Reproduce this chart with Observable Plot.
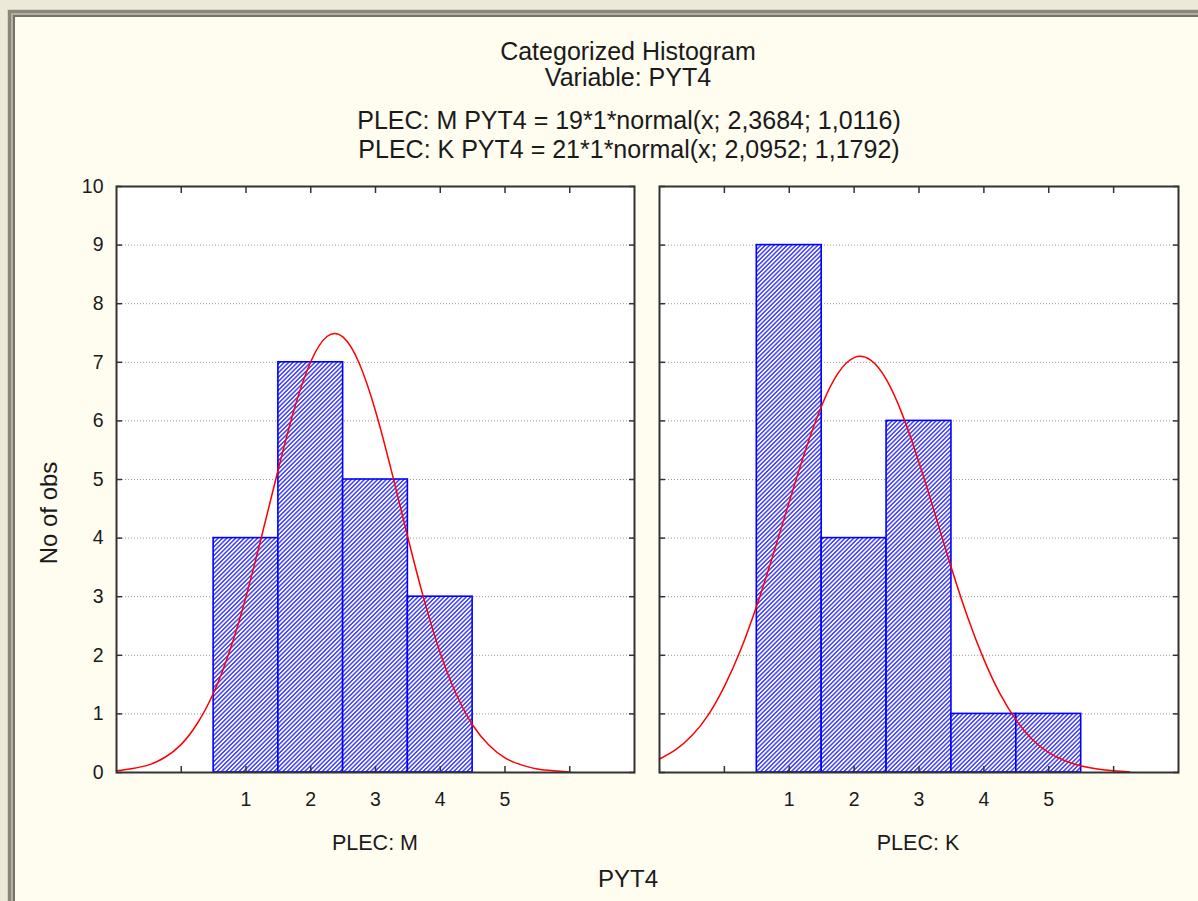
<!DOCTYPE html>
<html>
<head>
<meta charset="utf-8">
<script src="https://cdn.jsdelivr.net/npm/d3@7"></script>
<script src="https://cdn.jsdelivr.net/npm/@observablehq/plot@0.6"></script>
<style>
  html, body { margin: 0; padding: 0; background: #ece9d8; }
  #page { position: relative; width: 1198px; height: 901px; overflow: hidden;
          font-family: "Liberation Sans", Arial, sans-serif; color: #1a1a1a; }
  .f1 { position: absolute; left: 7px; top: 9px; width: 1300px; height: 1000px; background: #d6d3c6; }
  .f2 { position: absolute; left: 1px; top: 1px; right: 0; bottom: 0; background: #8a8779; }
  .f3 { position: absolute; left: 3px; top: 3px; right: 0; bottom: 0; background: #b3b0a2; }
  .f4 { position: absolute; left: 2px; top: 2px; right: 0; bottom: 0; background: #74726a; }
  .f5 { position: absolute; left: 2px; top: 2px; right: 0; bottom: 0; background: #fffcf0; }
  .txt { position: absolute; white-space: nowrap; line-height: 1; transform: translateX(-50%); }
  .plot { position: absolute; left: 0; top: 0; }
</style>
</head>
<body>
<div id="page">
  <div class="f1"><div class="f2"><div class="f3"><div class="f4"><div class="f5"></div></div></div></div></div>
  <svg width="0" height="0" style="position:absolute">
    <defs>
      <pattern id="hatch" patternUnits="userSpaceOnUse" width="3.1" height="3.1" patternTransform="rotate(45)">
        <rect width="3.1" height="3.1" fill="#ffffff"></rect>
        <line x1="1.55" y1="-1" x2="1.55" y2="4.1" stroke="#1010ff" stroke-width="1.2"></line>
      </pattern>
    </defs>
  </svg>
  <div id="charts"></div>
  <div id="texts"></div>
</div>
<script>
// ---- data ----
const categories = [1, 2, 3, 4, 5];
const countsM = [4, 7, 5, 3, 0];
const countsK = [9, 4, 6, 1, 1];

const curveXM = [-1, -0.75, -0.5, -0.25, 0, 0.25, 0.5, 0.75, 1, 1.25, 1.5, 1.75, 2, 2.25, 2.5, 2.75, 3, 3.25, 3.5, 3.75, 4, 4.25, 4.5, 4.75, 5, 5.25, 5.5, 5.75, 6];
const curveYM = [0.03, 0.07, 0.13, 0.26, 0.48, 0.84, 1.36, 2.08, 3.0, 4.07, 5.18, 6.22, 7.01, 7.44, 7.43, 6.98, 6.17, 5.13, 4.01, 2.95, 2.04, 1.33, 0.81, 0.47, 0.25, 0.13, 0.06, 0.03, 0.01];

const curveXK = [-1, -0.75, -0.5, -0.25, 0, 0.25, 0.5, 0.75, 1, 1.25, 1.5, 1.75, 2, 2.25, 2.5, 2.75, 3, 3.25, 3.5, 3.75, 4, 4.25, 4.5, 4.75, 5, 5.25, 5.5, 5.75, 6, 6.25];
const curveYK = [0.23, 0.39, 0.63, 0.98, 1.47, 2.09, 2.85, 3.71, 4.62, 5.5, 6.26, 6.81, 7.08, 7.04, 6.7, 6.09, 5.29, 4.4, 3.49, 2.65, 1.93, 1.34, 0.89, 0.56, 0.34, 0.2, 0.11, 0.06, 0.03, 0.01];

const yTicks = [0, 1, 2, 3, 4, 5, 6, 7, 8, 9, 10];
const yGrid = [1, 2, 3, 4, 5, 6, 7, 8, 9];
const xTicks = [0, 1, 2, 3, 4, 5, 6];
const xTickLabels = [1, 2, 3, 4, 5];

const titleLines = ["Categorized Histogram", "Variable: PYT4"];
const fitLines = ["PLEC: M PYT4 = 19*1*normal(x; 2,3684; 1,0116)", "PLEC: K PYT4 = 21*1*normal(x; 2,0952; 1,1792)"];
const panelLabels = ["PLEC: M", "PLEC: K"];
const xLabel = "PYT4";
const yLabel = "No of obs";

// ---- drawing ----
const W = 1198, H = 901;
const axisColor = "#333333";
const fmt = d => String(d);

function panel(counts, cx, cy, mLeft, mRight, showYLabels) {
  const bars = categories.map((c, i) => ({cat: c, count: counts[i]})).filter(d => d.count > 0);
  const marks = [
    Plot.frame({fill: "#ffffff", stroke: null}),
    Plot.gridY(yGrid, {stroke: "#9a9a9a", strokeOpacity: 1, strokeWidth: 1, strokeDasharray: "1,2"}),
    Plot.rectY(bars, {x1: d => d.cat - 0.5, x2: d => d.cat + 0.5, y: "count",
      fill: "url(#hatch)", stroke: "#0000ff", strokeWidth: 1.6}),
    Plot.line(cy, {x: cx, y: cy, stroke: "#ff0000", strokeWidth: 1.5, curve: "natural"}),
    Plot.frame({stroke: axisColor, strokeWidth: 2}),
    Plot.axisY(yTicks, {anchor: "left", tickSize: -6, text: null, label: null, stroke: axisColor, strokeWidth: 1.5}),
    Plot.axisY(yTicks, {anchor: "right", tickSize: -6, text: null, label: null, stroke: axisColor, strokeWidth: 1.5}),
    Plot.axisX(xTicks, {anchor: "bottom", tickSize: -6, text: null, label: null, stroke: axisColor, strokeWidth: 1.5}),
    Plot.axisX(xTicks, {anchor: "top", tickSize: -6, text: null, label: null, stroke: axisColor, strokeWidth: 1.5}),
    Plot.axisX(xTickLabels, {anchor: "bottom", tickSize: 0, tickPadding: 20, label: null, fontSize: 19.5, tickFormat: fmt})
  ];
  if (showYLabels) {
    marks.push(Plot.axisY(yTicks, {anchor: "left", tickSize: 0, tickPadding: 13, label: null, fontSize: 19.5, tickFormat: fmt}));
  }
  return Plot.plot({
    width: W, height: H,
    marginLeft: mLeft, marginRight: mRight, marginTop: 186, marginBottom: 129,
    x: {domain: [-1, 7]},
    y: {domain: [0, 10]},
    style: {background: "transparent", fontFamily: "'Liberation Sans', Arial, sans-serif", fontSize: "19.5px", color: "#1a1a1a", overflow: "visible"},
    marks
  });
}

const charts = document.getElementById("charts");
const p1 = panel(countsM, curveXM, curveYM, 116, W - 634, true);
const p2 = panel(countsK, curveXK, curveYK, 659, W - 1178, false);
p1.classList.add("plot"); p2.classList.add("plot");
p1.style.position = "absolute"; p2.style.position = "absolute";
charts.appendChild(p1); charts.appendChild(p2);

// ---- texts ----
const texts = document.getElementById("texts");
function addText(str, x, top, size, extra) {
  const d = document.createElement("div");
  d.className = "txt";
  d.textContent = str;
  d.style.left = x + "px";
  d.style.top = top + "px";
  d.style.fontSize = size + "px";
  if (extra) Object.assign(d.style, extra);
  texts.appendChild(d);
  return d;
}
const fsT = 25;
addText(titleLines[0], 628, 60 - 0.8465 * fsT, fsT);
addText(titleLines[1], 628, 86 - 0.8465 * fsT, fsT);
addText(fitLines[0], 629, 129 - 0.8465 * fsT, fsT);
addText(fitLines[1], 629, 158 - 0.8465 * fsT, fsT);
addText(panelLabels[0], 375, 851 - 0.8465 * 21.5, 21.5);
addText(panelLabels[1], 918, 851 - 0.8465 * 21.5, 21.5);
addText(xLabel, 628, 887 - 0.8465 * 24, 24);
addText(yLabel, 49, 512.5, 24, {transform: "translate(-50%, -50%) rotate(-90deg)"});
</script>
</body>
</html>
